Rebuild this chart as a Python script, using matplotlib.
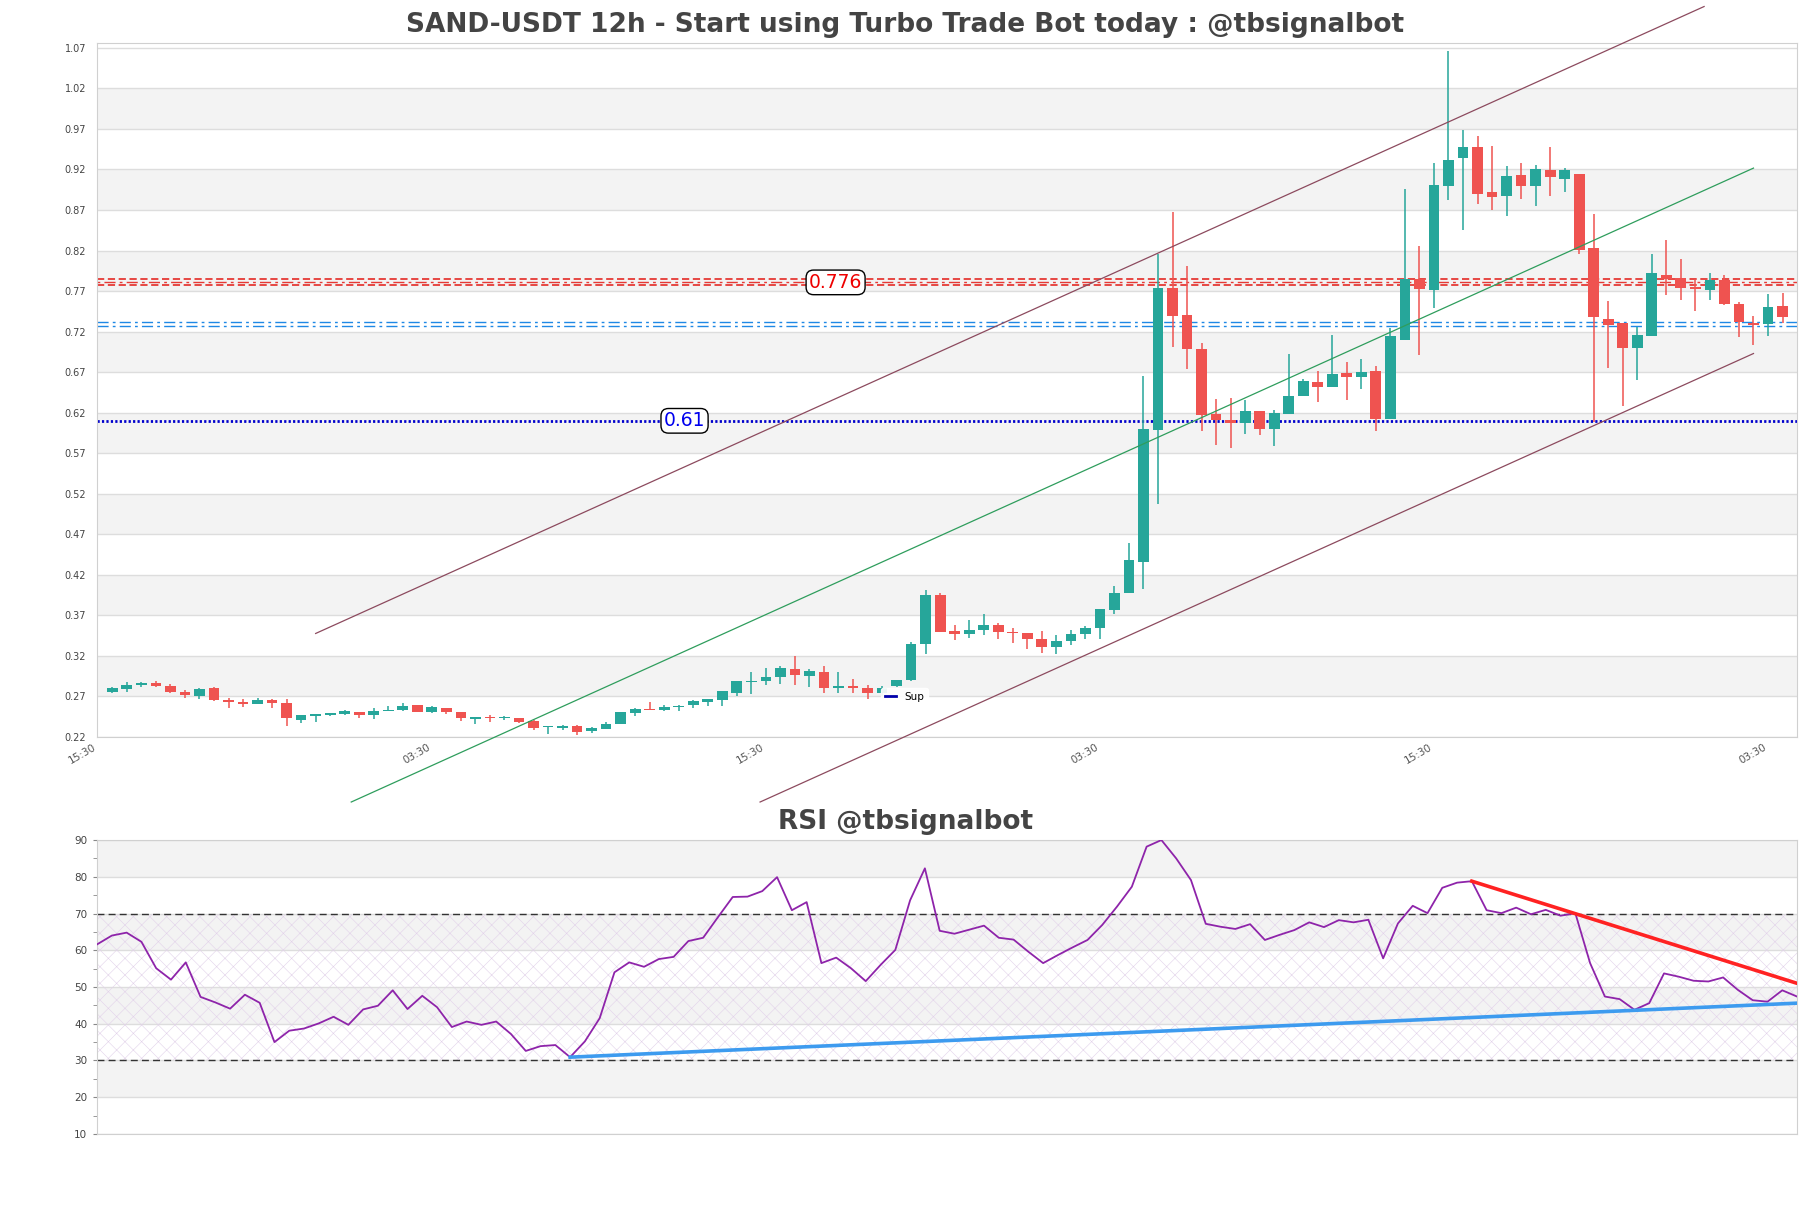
import matplotlib
matplotlib.use("Agg")
import matplotlib.pyplot as plt
import numpy as np
from matplotlib.lines import Line2D

# 12h candles, SAND-USDT
opens = [
    0.2761, 0.2798, 0.2847, 0.2868, 0.2831, 0.2757, 0.2708, 0.2806, 0.2659, 0.2634,
    0.2601, 0.2659, 0.2622, 0.2413, 0.2462, 0.2466, 0.2483, 0.2511, 0.2466, 0.2515,
    0.2528, 0.2597, 0.2503, 0.2560, 0.2511, 0.2421, 0.2437, 0.2429, 0.2437, 0.2400,
    0.2323, 0.2306, 0.2339, 0.2269, 0.2302, 0.2364, 0.2499, 0.2548, 0.2536, 0.2564,
    0.2590, 0.2637, 0.2651, 0.2744, 0.2875, 0.2894, 0.2941, 0.3044, 0.2950, 0.3001,
    0.2809, 0.2833, 0.2800, 0.2739, 0.2828, 0.2903, 0.3348, 0.3947, 0.3512, 0.3474,
    0.3521, 0.3587, 0.3498, 0.3479, 0.3404, 0.3312, 0.3379, 0.3470, 0.3545, 0.3770,
    0.3980, 0.4359, 0.5984, 0.7735, 0.7402, 0.6991, 0.6185, 0.6115, 0.6074, 0.6226,
    0.6001, 0.6186, 0.6404, 0.6577, 0.6515, 0.6691, 0.6642, 0.6720, 0.6128, 0.7102,
    0.7851, 0.7711, 0.8994, 0.9339, 0.9479, 0.8924, 0.8870, 0.9138, 0.8994, 0.9199,
    0.9088, 0.9150, 0.8233, 0.7357, 0.7308, 0.7000, 0.7151, 0.7896, 0.7863, 0.7752,
    0.7711, 0.7842, 0.7546, 0.7300, 0.7295, 0.7522,
]
highs = [
    0.2815, 0.2876, 0.2884, 0.2888, 0.2856, 0.2774, 0.2802, 0.2819, 0.2675, 0.2671,
    0.2679, 0.2667, 0.2671, 0.2470, 0.2470, 0.2499, 0.2532, 0.2511, 0.2552, 0.2581,
    0.2622, 0.2597, 0.2577, 0.2560, 0.2511, 0.2450, 0.2474, 0.2462, 0.2437, 0.2413,
    0.2331, 0.2347, 0.2347, 0.2318, 0.2388, 0.2511, 0.2556, 0.2626, 0.2593, 0.2597,
    0.2655, 0.2669, 0.2763, 0.2894, 0.2997, 0.3057, 0.3071, 0.3199, 0.3044, 0.3081,
    0.2997, 0.2918, 0.2847, 0.2830, 0.2903, 0.3371, 0.4018, 0.3971, 0.3587, 0.3646,
    0.3713, 0.3611, 0.3540, 0.3479, 0.3512, 0.3456, 0.3516, 0.3563, 0.3783, 0.4064,
    0.4589, 0.6658, 0.8161, 0.8676, 0.8006, 0.7061, 0.6370, 0.6383, 0.6362, 0.6226,
    0.6230, 0.6918, 0.6618, 0.6711, 0.7164, 0.6822, 0.6864, 0.6773, 0.7245, 0.8961,
    0.8262, 0.9281, 1.0659, 0.9693, 0.9619, 0.9495, 0.9240, 0.9281, 0.9261, 0.9475,
    0.9220, 0.9150, 0.8652, 0.7583, 0.7308, 0.7258, 0.8163, 0.8336, 0.8097, 0.7851,
    0.7925, 0.7904, 0.7563, 0.7390, 0.7670, 0.7678,
]
lows = [
    0.2741, 0.2761, 0.2815, 0.2811, 0.2737, 0.2675, 0.2663, 0.2647, 0.2552, 0.2564,
    0.2601, 0.2552, 0.2331, 0.2368, 0.2384, 0.2454, 0.2474, 0.2429, 0.2417, 0.2515,
    0.2524, 0.2503, 0.2491, 0.2483, 0.2392, 0.2355, 0.2388, 0.2413, 0.2376, 0.2286,
    0.2237, 0.2286, 0.2224, 0.2253, 0.2298, 0.2355, 0.2462, 0.2532, 0.2515, 0.2515,
    0.2557, 0.2577, 0.2581, 0.2706, 0.2730, 0.2838, 0.2856, 0.2838, 0.2819, 0.2744,
    0.2739, 0.2744, 0.2669, 0.2700, 0.2819, 0.2894, 0.3222, 0.3493, 0.3395, 0.3423,
    0.3456, 0.3404, 0.3362, 0.3287, 0.3241, 0.3222, 0.3336, 0.3404, 0.3404, 0.3722,
    0.3980, 0.4031, 0.5071, 0.7014, 0.6742, 0.5971, 0.5807, 0.5766, 0.5939, 0.5919,
    0.5786, 0.6186, 0.6404, 0.6329, 0.6515, 0.6362, 0.6498, 0.5971, 0.6128, 0.7102,
    0.6909, 0.7493, 0.8821, 0.8459, 0.8780, 0.8706, 0.8632, 0.8841, 0.8755, 0.8878,
    0.8924, 0.8159, 0.6087, 0.6753, 0.6280, 0.6601, 0.7151, 0.7657, 0.7587, 0.7452,
    0.7596, 0.7534, 0.7131, 0.7032, 0.7143, 0.7308,
]
closes = [
    0.2802, 0.2843, 0.2872, 0.2823, 0.2749, 0.2712, 0.2794, 0.2651, 0.2626, 0.2601,
    0.2659, 0.2618, 0.2429, 0.2470, 0.2470, 0.2499, 0.2515, 0.2466, 0.2524, 0.2536,
    0.2585, 0.2507, 0.2564, 0.2507, 0.2429, 0.2450, 0.2429, 0.2441, 0.2384, 0.2306,
    0.2331, 0.2331, 0.2257, 0.2306, 0.2359, 0.2511, 0.2548, 0.2532, 0.2569, 0.2573,
    0.2650, 0.2669, 0.2763, 0.2894, 0.2894, 0.2941, 0.3057, 0.2964, 0.3020, 0.2809,
    0.2828, 0.2800, 0.2739, 0.2805, 0.2903, 0.3353, 0.3947, 0.3493, 0.3470, 0.3516,
    0.3587, 0.3493, 0.3479, 0.3404, 0.3312, 0.3383, 0.3474, 0.3550, 0.3774, 0.3980,
    0.4378, 0.5993, 0.7735, 0.7398, 0.6990, 0.6177, 0.6115, 0.6074, 0.6226, 0.6001,
    0.6197, 0.6400, 0.6597, 0.6515, 0.6683, 0.6642, 0.6703, 0.6128, 0.7151, 0.7851,
    0.7727, 0.9014, 0.9323, 0.9479, 0.8903, 0.8858, 0.9125, 0.8994, 0.9212, 0.9105,
    0.9199, 0.8212, 0.7378, 0.7279, 0.7000, 0.7164, 0.7925, 0.7851, 0.7740, 0.7727,
    0.7834, 0.7546, 0.7316, 0.7287, 0.7501, 0.7382,
]

rsi = [
    61.6, 64.0, 64.8, 62.3, 55.1, 52.0, 56.7, 47.3, 45.8, 44.1,
    47.9, 45.7, 35.0, 38.1, 38.7, 40.1, 41.9, 39.7, 43.9, 44.9,
    49.1, 44.0, 47.6, 44.5, 39.1, 40.6, 39.7, 40.6, 37.2, 32.6,
    33.9, 34.2, 30.9, 35.2, 41.5, 54.0, 56.7, 55.5, 57.6, 58.2,
    62.5, 63.4, 69.0, 74.5, 74.6, 76.1, 79.9, 70.9, 73.1, 56.5,
    58.0, 55.1, 51.6, 56.0, 60.1, 73.6, 82.3, 65.3, 64.5, 65.6,
    66.7, 63.4, 62.9, 59.6, 56.5, 58.7, 60.8, 62.8, 66.9, 71.9,
    77.3, 88.2, 90.0, 85.0, 79.1, 67.2, 66.4, 65.8, 67.1, 62.8,
    64.2, 65.5, 67.6, 66.3, 68.2, 67.6, 68.3, 57.8, 67.3, 72.1,
    70.1, 77.0, 78.4, 78.8, 70.9, 70.1, 71.6, 69.8, 71.0, 69.4,
    70.1, 56.5, 47.4, 46.7, 43.8, 45.6, 53.7, 52.8, 51.7, 51.5,
    52.6, 49.2, 46.4, 46.0, 49.1, 47.4,
]

tick_pos = [-1, 22, 45, 68, 91, 114]
tick_labels = ["15:30", "03:30", "15:30", "03:30", "15:30", "03:30"]

# channel lines (candle index, price)
upper_x, upper_y = [14.0, 109.6], [0.3477, 1.121]
mid_x, mid_y = [16.45, 113.0], [0.1398, 0.9217]
lower_x, lower_y = [44.6, 113.0], [0.1398, 0.693]

res_low, res_high, res_label = 0.777, 0.7845, "0.776"
mid_level = 0.7295
sup_level, sup_label = 0.61, "0.61"

# RSI trendlines
rsi_up_x, rsi_up_y = [32, 115], [30.9, 45.6]
rsi_dn_x, rsi_dn_y = [93, 115], [78.8, 51.0]

GREEN, RED = "#26a69a", "#ef5350"
BAND = "#f3f3f3"
TXT = "#444444"

plt.rcParams["hatch.linewidth"] = 0.4

fig = plt.figure(figsize=(18.11, 12.08), dpi=100)
ax_l, ax_w = 0.0536, 0.9387
ax = fig.add_axes([ax_l, 0.3899, ax_w, 0.5745])
rax = fig.add_axes([ax_l, 0.0613, ax_w, 0.2433])
title_x = (0.5 - ax_l) / ax_w  # centre titles on the figure

# ---- price panel ----
o, h, l, c = (np.array(v) for v in (opens, highs, lows, closes))
x = np.arange(len(o))
cols = np.where(c >= o, GREEN, RED)
body = np.maximum(np.abs(c - o), 0.0018)
ax.vlines(x, l, h, colors=cols, lw=1.1, zorder=3)
ax.bar(x, body, bottom=np.minimum(o, c), width=0.74, color=cols, lw=0, zorder=4)

for lo in np.arange(0.27, 1.0, 0.1):
    ax.axhspan(lo, lo + 0.05, color=BAND, zorder=0, lw=0)

ax.set_xlim(-1.05, 116.0)
ax.set_ylim(0.22, 1.076)
ax.set_yticks(np.arange(0.22, 1.071, 0.05))
ax.set_yticklabels([f"{v:.2f}" for v in np.arange(0.22, 1.071, 0.05)])
ax.set_xticks(tick_pos)
ax.set_xticklabels(tick_labels, rotation=30, ha="right", va="top")
ax.tick_params(axis="y", length=0, pad=8, labelsize=7, labelcolor=TXT)
ax.tick_params(axis="x", length=0, pad=4, labelsize=7.5, labelcolor="#555555")
ax.yaxis.grid(True, color="#dddddd", lw=1)
ax.set_axisbelow(True)
for s in ax.spines.values():
    s.set_color("#d0d0d0")

ax.plot(upper_x, upper_y, color="#8c4a5e", lw=0.9, clip_on=False, zorder=5)
ax.plot(lower_x, lower_y, color="#8c4a5e", lw=0.9, clip_on=False, zorder=5)
ax.plot(mid_x, mid_y, color="#2e9d5c", lw=0.9, clip_on=False, zorder=5)

# resistance zone
for lv in (res_low, res_high):
    ax.axhline(lv, color="#e53935", lw=1.3, ls=(0, (4, 2)), zorder=2)
ax.axhline((res_low + res_high) / 2, color="#e53935", lw=1.0, ls=(0, (2, 3, 8, 3)), zorder=2)
# middle level
for lv in (mid_level - 0.0022, mid_level + 0.0022):
    ax.axhline(lv, color="#1e88e5", lw=1.0, ls=(0, (8, 3, 2, 3)), zorder=2)
# support
ax.axhline(sup_level, color="#0000cc", lw=2.0, ls=(0, (0.8, 0.8)), zorder=2)

box = dict(boxstyle="round,pad=0.15,rounding_size=0.4", fc="white", ec="black", lw=1)
ax.text(49.8, (res_low + res_high) / 2, res_label, color="#ee0000", fontsize=13.5,
        ha="center", va="center", bbox=box, zorder=6)
ax.text(39.4, sup_level, sup_label, color="#0000ee", fontsize=13.5,
        ha="center", va="center", bbox=box, zorder=6)

ax.legend(handles=[Line2D([], [], color="#0000aa", lw=2)], labels=["Sup"],
          loc="center", bbox_to_anchor=(0.475, 0.058), fontsize=7.5,
          frameon=True, framealpha=0.9, edgecolor="white", handlelength=1.0)

ax.set_title("SAND-USDT 12h - Start using Turbo Trade Bot today : @tbsignalbot",
             fontsize=19, fontweight="bold", color=TXT, pad=8, x=title_x)

# ---- RSI panel ----
k = np.arange(len(rsi))
for lo in (20, 40, 60, 80):
    rax.axhspan(lo, lo + 10, color=BAND, zorder=0, lw=0)
rax.axhspan(30, 70, facecolor="none", edgecolor="#e2d2ea", hatch="xx", lw=0, zorder=0.6)
rax.plot(k, rsi, color="#8e24aa", lw=1.3, zorder=3)
rax.axhline(70, color="#333333", lw=1.0, ls=(0, (5, 3)), zorder=2)
rax.axhline(30, color="#333333", lw=1.0, ls=(0, (5, 3)), zorder=2)
rax.plot(rsi_up_x, rsi_up_y, color="#3d9bef", lw=2.6, zorder=4)
rax.plot(rsi_dn_x, rsi_dn_y, color="#ff2222", lw=2.6, zorder=4)

rax.set_xlim(0, 115)
rax.set_ylim(10, 90)
rax.set_yticks(range(10, 91, 10))
rax.set_yticks(range(15, 90, 10), minor=True)
rax.set_xticks([])
rax.tick_params(axis="y", which="both", length=3, color="#888888", pad=4,
                labelsize=7.5, labelcolor=TXT)
rax.yaxis.grid(True, color="#dddddd", lw=1)
rax.set_axisbelow(True)
for s in rax.spines.values():
    s.set_color("#d0d0d0")
rax.set_title("RSI @tbsignalbot", fontsize=19, fontweight="bold", color=TXT, pad=8, x=title_x)

fig.savefig("out.png", dpi=100)
